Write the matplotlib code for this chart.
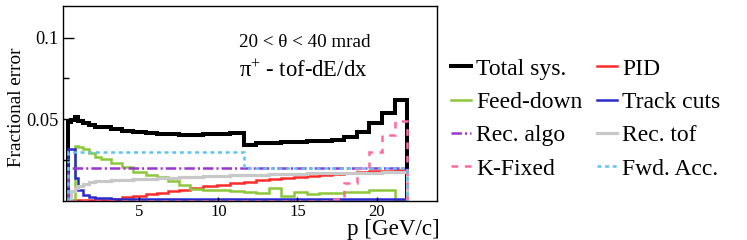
import matplotlib
matplotlib.use("Agg")
import matplotlib.pyplot as plt
from matplotlib.font_manager import FontProperties

plt.rcParams['font.family'] = ['Liberation Serif', 'DejaVu Serif']
plt.rcParams['mathtext.fontset'] = 'custom'
plt.rcParams['mathtext.rm'] = 'Liberation Serif'
plt.rcParams['mathtext.it'] = 'Liberation Serif:italic'
plt.rcParams['lines.scale_dashes'] = False

# ---------------- data ----------------
p_edges = [0.49, 0.70, 0.92, 1.13, 1.42, 1.80, 2.2, 2.6, 3.2, 3.9, 4.6, 5.4, 6.1,
           6.8, 7.5, 8.2, 9.05, 9.9, 10.75, 11.6, 12.4, 13.19, 13.99, 14.78,
           15.58, 16.37, 17.17, 17.96, 18.76, 19.55, 20.35, 21.14, 21.94]

total_sys = [0.0486, 0.0495, 0.0512, 0.0492, 0.0475, 0.0465, 0.0455, 0.0450,
             0.0440, 0.0428, 0.0420, 0.0414, 0.0410, 0.0407, 0.0405, 0.0404,
             0.0408, 0.0412, 0.0414, 0.0345, 0.0352, 0.0356, 0.0360, 0.0363,
             0.0366, 0.0370, 0.0373, 0.0390, 0.0424, 0.0475, 0.0540, 0.0618]

pid = [0.0005, 0.0005, 0.0005, 0.0005, 0.0005, 0.0005, 0.0005, 0.0008,
       0.0015, 0.0024, 0.0032, 0.0041, 0.0050, 0.0059, 0.0068, 0.0078,
       0.0090, 0.0100, 0.0110, 0.0119, 0.0127, 0.0134, 0.0141, 0.0148,
       0.0154, 0.0160, 0.0166, 0.0172, 0.0177, 0.0182, 0.0186, 0.0189]

feed_down = [0.0, 0.0, 0.0335, 0.0330, 0.0316, 0.0292, 0.0271, 0.0258,
             0.0235, 0.0205, 0.0178, 0.0158, 0.0145, 0.0120, 0.0100, 0.0075,
             0.0068, 0.0066, 0.0060, 0.0057, 0.0047, 0.0078, 0.0031, 0.0057,
             0.0045, 0.0047, 0.0047, 0.0055, 0.0057, 0.0065, 0.0067, 0.0]

track_cuts = [0.0316, 0.0316, 0.0139, 0.0067, 0.0037, 0.0023, 0.0020, 0.0018,
              0.0015, 0.0015, 0.0015, 0.0015, 0.0015, 0.0015, 0.0015, 0.0015,
              0.0015, 0.0015, 0.0015, 0.0015, 0.0015, 0.0015, 0.0015, 0.0015,
              0.0015, 0.0015, 0.0015, 0.0015, 0.0015, 0.0015, 0.0015, 0.0015]

rec_algo = [0.020] * 32

rec_tof = [0.0, 0.0060, 0.0078, 0.0092, 0.0104, 0.0114, 0.0120, 0.0124,
           0.0126, 0.0128, 0.0132, 0.0136, 0.0140, 0.0143, 0.0146, 0.0149,
           0.0152, 0.0155, 0.0157, 0.0159, 0.0161, 0.0163, 0.0165, 0.0167,
           0.0169, 0.0170, 0.0171, 0.0172, 0.0173, 0.0174, 0.0175, 0.0176]

k_fixed = [0.0] * 26 + [0.0012, 0.0108, 0.0200, 0.0302, 0.0404, 0.0491]

fwd_acc = [0.030] * 19 + [0.020] * 13

labels = ["Total sys.", "PID", "Feed-down", "Track cuts",
          "Rec. algo", "Rec. tof", "K-Fixed", "Fwd. Acc."]

y_ticks = [0.05, 0.1]
y_ticklabels = ["0.05", "0.1"]
x_ticks = [5, 10, 15, 20]

# ---------------- figure ----------------
W, H = 747, 240
fig = plt.figure(figsize=(W / 100, H / 100), dpi=100)
ax = fig.add_axes([63 / W, 39 / H, 374.5 / W, 195 / H])

styles = [
    (total_sys, dict(color='black', lw=2.9, ls='-')),
    (pid, dict(color='#ff2a2a', lw=1.8, ls='-')),
    (feed_down, dict(color='#8cc83a', lw=1.8, ls='-')),
    (track_cuts, dict(color='#2a2acc', lw=1.8, ls='-')),
    (rec_algo, dict(color='#9a35cf', lw=1.8, ls=(0, (7.5, 2.2, 1.5, 2.2)))),
    (rec_tof, dict(color='#c8c8c8', lw=2.3, ls='-')),
    (k_fixed, dict(color='#ff6b9c', lw=1.8, ls=(0, (4.8, 4.8)))),
    (fwd_acc, dict(color='#5cc3f5', lw=1.8, ls=(0, (2.8, 2.7)))),
]

handles = []
for (vals, st), lab in zip(styles, labels):
    ax.stairs(vals, p_edges, baseline=0, label=lab, **st)
    handles.append(plt.Line2D([], [], **st))

ax.set_xlim(0.18, 23.85)
ax.set_ylim(0, 0.1193)

ax.set_yticks(y_ticks)
ax.set_yticklabels(y_ticklabels)
ax.set_yticks([0.025, 0.075], minor=True)
ax.set_xticks(x_ticks)
ax.tick_params(axis='y', which='major', direction='in', length=8, width=1,
               labelsize=13.2, pad=3.5)
ax.tick_params(axis='y', which='minor', direction='in', length=4, width=1)
ax.tick_params(axis='x', which='major', direction='in', length=3, width=1,
               labelsize=12, pad=2.5)
for s in ax.spines.values():
    s.set_linewidth(1.0)

fig.text(17 / W, 1 - 107 / H, "Fractional error", rotation=90,
         ha='center', va='center', fontsize=13.8)
fig.text(440 / W, 1 - 235 / H, "p [GeV/c]", ha='right', va='baseline',
         fontsize=16.6)
fig.text(239 / W, 1 - 46.7 / H, "20 < θ < 40 mrad", ha='left',
         va='baseline', fontsize=13.8)
fig.text(239 / W, 1 - 77.3 / H, "π$^{+}$ - tof-dE/dx", ha='left',
         va='baseline', fontsize=16.3)

# legend: column-wise order so rows read Total/PID, Feed/Track, ...
order = [0, 2, 4, 6, 1, 3, 5, 7]
leg_font = FontProperties(family='Liberation Serif', size=17)
leg = fig.legend([handles[i] for i in order], [labels[i] for i in order],
                 loc='upper left', bbox_to_anchor=(451 / W, 1 - 58 / H),
                 ncol=2, frameon=False, prop=leg_font, handlelength=0.86,
                 handletextpad=0.2, columnspacing=0.62, labelspacing=0.5,
                 borderpad=0, borderaxespad=0)

fig.savefig("out.png", dpi=100)
